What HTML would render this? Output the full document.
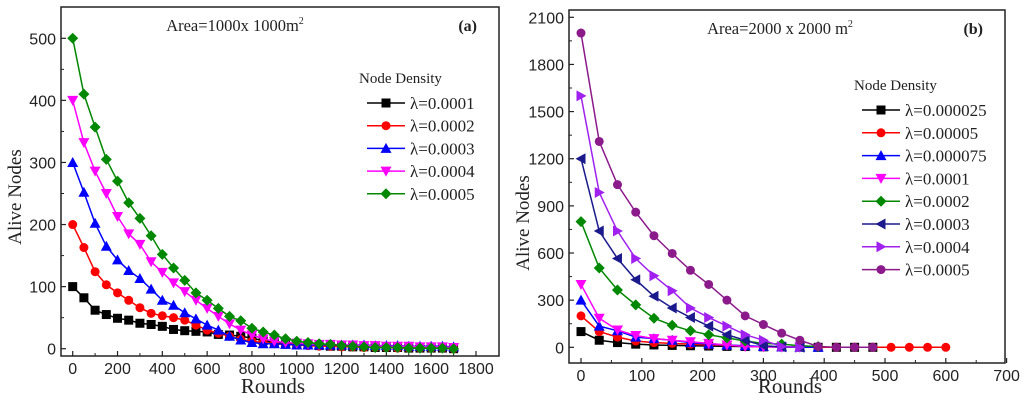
<!DOCTYPE html>
<html><head><meta charset="utf-8"><style>
html,body{margin:0;padding:0;background:#fff;width:1024px;height:416px;overflow:hidden}
svg{display:block}
.tk{font-family:"Liberation Sans",sans-serif;font-size:16px;fill:#222}
.ser{font-family:"Liberation Serif",serif;fill:#222}
</style></head><body>
<svg id="c" width="1024" height="416"></svg>
<script>
// ---- Panel (a) data ----
const roundsA = [0,50,100,150,200,250,300,350,400,450,500,550,600,650,700,750,800,850,900,950,1000,1050,1100,1150,1200,1250,1300,1350,1400,1450,1500,1550,1600,1650,1700];
const labelsA = ["λ=0.0001","λ=0.0002","λ=0.0003","λ=0.0004","λ=0.0005"];
const a1 = [100,82,62,55,49,46,41,39,36,31,29,28,27,23,22,20,17,13,10,8,7,6,5,4,4,3,3,2,2,2,1,1,1,1,0];
const a2 = [200,163,124,103,90,78,66,57,53,50,46,38,30,25,20,15,12,10,8,7,6,5,4,4,3,3,2,2,2,1,1,1,1,1,0];
const a3 = [300,252,202,165,143,126,113,96,78,70,58,48,38,30,20,14,10,8,8,7,6,6,6,6,6,6,6,5,5,5,4,4,4,4,3];
const a4 = [400,332,286,250,213,185,168,140,123,106,92,78,65,52,40,30,22,16,12,10,9,8,7,7,6,6,5,5,4,4,4,3,3,3,2];
const a5 = [500,410,357,305,270,235,210,182,152,130,110,90,78,65,52,45,33,27,22,16,12,10,8,7,5,4,3,2,2,2,1,1,1,1,0];
const ticksAX = [0,200,400,600,800,1000,1200,1400,1600,1800];
const ticksAY = [0,100,200,300,400,500];
// ---- Panel (b) data ----
const roundsB = [0,30,60,90,120,150,180,210,240,270,300,330,360,390,420,450,480,510,540,570,600];
const labelsB = ["λ=0.000025","λ=0.00005","λ=0.000075","λ=0.0001","λ=0.0002","λ=0.0003","λ=0.0004","λ=0.0005"];
const b1 = [100,45,30,20,15,12,10,8,6,5,3,2,1,0,0,0,0];
const b2 = [200,100,65,40,30,25,20,15,12,8,5,3,2,0,0,0,0,0,0,0,0];
const b3 = [300,135,105,65,55,45,30,20,15,10,5,3,1,0];
const b4 = [400,185,110,75,55,45,35,25,15,5,3,1,0];
const b5 = [800,505,365,270,185,140,105,80,60,40,25,20,10,5];
const b6 = [1200,740,565,430,325,250,190,135,80,45,10,3,0];
const b7 = [1600,985,740,565,455,360,250,190,135,80,45,5,0];
const b8 = [2000,1310,1035,860,710,597,490,400,300,200,145,90,45,5,0,0,0];
const ticksBX = [0,100,200,300,400,500,600,700];
const ticksBY = [0,300,600,900,1200,1500,1800,2100];

const NS="http://www.w3.org/2000/svg";
const svg=document.getElementById('c');
function mk(t,a,p){const e=document.createElementNS(NS,t);for(const k in a)e.setAttribute(k,a[k]);(p||svg).appendChild(e);return e;}
function marker(g,type,x,y,c){
  const s=4.5;
  if(type==='sq') return mk('rect',{x:x-s,y:y-s,width:2*s,height:2*s,fill:c},g);
  if(type==='ci') return mk('circle',{cx:x,cy:y,r:s,fill:c},g);
  let p;
  if(type==='up') p=[[x,y-s-1],[x+s+1,y+s],[x-s-1,y+s]];
  if(type==='dn') p=[[x,y+s+1],[x+s+1,y-s],[x-s-1,y-s]];
  if(type==='lf') p=[[x-s-1,y],[x+s,y-s-1],[x+s,y+s+1]];
  if(type==='rt') p=[[x+s+1,y],[x-s,y-s-1],[x-s,y+s+1]];
  if(type==='di') p=[[x,y-s-1],[x+s+1,y],[x,y+s+1],[x-s-1,y]];
  return mk('polygon',{points:p.map(q=>q.join(',')).join(' '),fill:c},g);
}
function panel(o){
  const g=mk('g',{});
  
  
  const sx=v=>o.x0+(v-o.xmin)*o.kx, sy=v=>o.y0-v*o.ky;
  const box=mk('rect',{x:o.bx,y:o.by,width:o.bw,height:o.bh,fill:'none',stroke:'#222','stroke-width':1.5},g);
  
  
  o.tx.forEach((t,i)=>{const x=sx(t);
    mk('line',{x1:x,y1:o.by+o.bh,x2:x,y2:o.by+o.bh-5,stroke:'#222','stroke-width':1.2},g);
    if(i<o.tx.length-1){const m=sx(t+(o.tx[1]-o.tx[0])/2);mk('line',{x1:m,y1:o.by+o.bh,x2:m,y2:o.by+o.bh-3,stroke:'#222'},g);}
    const l=mk('text',{x:x,y:o.by+o.bh+18,'text-anchor':'middle',class:'tk'},g);l.textContent=t;
    });
  o.ty.forEach((t,i)=>{const y=sy(t);
    mk('line',{x1:o.bx,y1:y,x2:o.bx+5,y2:y,stroke:'#222','stroke-width':1.2},g);
    if(i<o.ty.length-1){const m=sy(t+(o.ty[1]-o.ty[0])/2);mk('line',{x1:o.bx,y1:m,x2:o.bx+3,y2:m,stroke:'#222'},g);}
    const l=mk('text',{x:o.bx-5,y:y+6,'text-anchor':'end',class:'tk'},g);l.textContent=t;
    });
  const xt=mk('text',{x:o.xtX,y:393,'text-anchor':'middle',class:'ser','font-size':21},g);xt.textContent='Rounds';
  
  const yt=mk('text',{x:0,y:0,'text-anchor':'middle',class:'ser','font-size':19,transform:`translate(${o.bx-40},${o.ytY}) rotate(-90)`},g);yt.textContent='Alive Nodes';
  
  const tt=mk('text',{x:o.titleX,y:o.by+24,'text-anchor':'middle',class:'ser','font-size':16.5},g);
  tt.innerHTML=o.title;
  
  const pl=mk('text',{x:o.bx+o.bw-22,y:o.by+24,'text-anchor':'end',class:'ser','font-size':16,'font-weight':'bold'},g);pl.textContent=o.tag;
  
  o.series.forEach((s,i)=>{
    const sg=mk('g',{},g);
    
    
    const pts=s.vals.map((v,j)=>[sx(o.rounds[j]),sy(v)]);
    mk('polyline',{points:pts.map(p=>p.join(',')).join(' '),fill:'none',stroke:s.c,'stroke-width':1.5},sg);
    pts.forEach(p=>marker(sg,s.m,p[0],p[1],s.c));
  });
  const lt=mk('text',{x:o.lx-8,y:o.ly-20,class:'ser','font-size':15},g);lt.textContent='Node Density';
  
  o.series.forEach((s,i)=>{
    const lg=mk('g',{},g);
    
    
    const y=o.ly+i*o.ld;
    mk('line',{x1:o.lx,y1:y,x2:o.lx+38,y2:y,stroke:s.c,'stroke-width':1.5},lg);
    marker(lg,s.m,o.lx+19,y,s.c);
    const t=mk('text',{x:o.lx+43,y:y+6,class:'ser','font-size':17},lg);t.textContent=s.label;
  });
}
panel({name:'panel-a',bx:61,by:7,bw:438,bh:349,x0:72.7,xmin:0,kx:403.3/1800,y0:348.7,ky:310.4/500,
  tx:ticksAX,ty:ticksAY,rounds:roundsA,title:'Area=1000x 1000m<tspan dy="-7" font-size="10">2</tspan>',titleX:235,tag:'(a)',
  xtX:273,ytY:197,lx:367,ly:103,ld:22.7,
  series:[{vals:a1,c:'#000',m:'sq',label:labelsA[0]},{vals:a2,c:'#f00',m:'ci',label:labelsA[1]},{vals:a3,c:'#00f',m:'up',label:labelsA[2]},{vals:a4,c:'#f0f',m:'dn',label:labelsA[3]},{vals:a5,c:'#080',m:'di',label:labelsA[4]}]});
panel({name:'panel-b',bx:569,by:10,bw:436,bh:353,x0:581,xmin:0,kx:60.8/100,y0:347.3,ky:330/2100,
  tx:ticksBX,ty:ticksBY,rounds:roundsB,title:'Area=2000 x 2000 m<tspan dy="-7" font-size="10">2</tspan>',titleX:780,tag:'(b)',
  xtX:790,ytY:223,lx:862,ly:110,ld:22.8,
  series:[{vals:b1,c:'#000',m:'sq',label:labelsB[0]},{vals:b2,c:'#f00',m:'ci',label:labelsB[1]},{vals:b3,c:'#00f',m:'up',label:labelsB[2]},{vals:b4,c:'#f0f',m:'dn',label:labelsB[3]},{vals:b5,c:'#080',m:'di',label:labelsB[4]},{vals:b6,c:'#1a1a8c',m:'lf',label:labelsB[5]},{vals:b7,c:'#a020f0',m:'rt',label:labelsB[6]},{vals:b8,c:'#8b1a8b',m:'ci',label:labelsB[7]}]});
</script>
</body></html>
